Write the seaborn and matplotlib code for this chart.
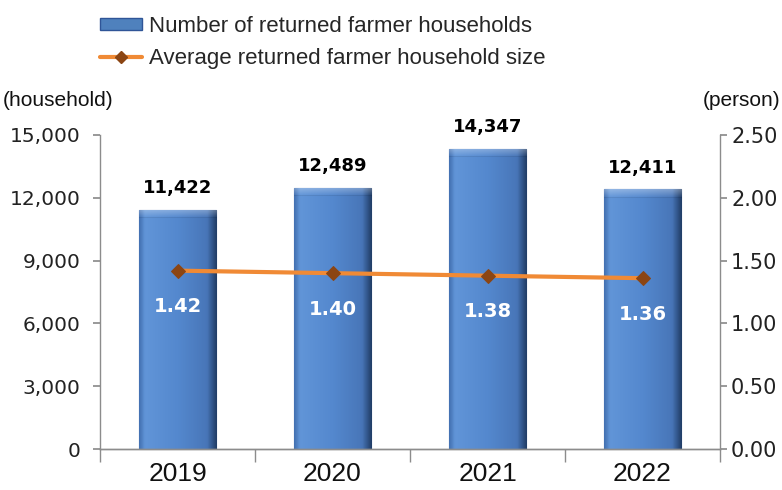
import numpy as np
import pandas as pd
import matplotlib
matplotlib.use("Agg")
import matplotlib.pyplot as plt
import matplotlib.colors as mcolors
from matplotlib.patches import Patch
from matplotlib.lines import Line2D
from matplotlib.ticker import FuncFormatter, FixedLocator
import seaborn as sns

# Data
years = ["2019", "2020", "2021", "2022"]
households = [11422, 12489, 14347, 12411]
avg_size = [1.42, 1.40, 1.38, 1.36]

bar_label = "Number of returned farmer households"
line_label = "Average returned farmer household size"

# Settings
sns.set_theme(style="white")
plt.rcParams["font.family"] = ["Liberation Sans", "DejaVu Sans"]

df = pd.DataFrame({"year": years, "households": households, "size": avg_size})

fig = plt.figure(figsize=(7.82, 4.9), dpi=100)
ax = fig.add_axes([100 / 782, 41 / 490, 620 / 782, 314 / 490])
ax2 = ax.twinx()

sns.barplot(data=df, x="year", y="households", ax=ax, color="#4F81BD",
            width=0.5, edgecolor="#2F5597", linewidth=0.8, zorder=2)
ax.set_ylim(0, 15000)
ax.set_xlim(-0.5, len(years) - 0.5)

# Gradient fill clipped to each bar
stops = [(0.0, "#4472B3"), (0.07, "#6195D8"), (0.5, "#5488CE"),
         (0.88, "#4876B8"), (1.0, "#223F69")]
cmap = mcolors.LinearSegmentedColormap.from_list("bar", stops)
cols = cmap(np.linspace(0, 1, 60))[:, :3]
for p in ax.patches:
    x0, y0 = p.get_x(), p.get_y()
    w, h = p.get_width(), p.get_height()
    npx = max(int(h / 15000 * 314), 20)
    img = np.tile(cols[None, :, :], (npx, 1, 1))
    bevel = 8
    for r in range(bevel):
        f = 0.3 * (1 - r / bevel)
        img[r] = img[r] + (1 - img[r]) * f
    img[bevel] = img[bevel] * 0.92
    im = ax.imshow(img, extent=[x0, x0 + w, y0, y0 + h], aspect="auto",
                   origin="upper", zorder=2.5, interpolation="bilinear")
    im.set_clip_path(p)
ax.set_ylim(0, 15000)
ax.set_xlim(-0.5, len(years) - 0.5)

for i, v in enumerate(households):
    ax.annotate(f"{v:,}", (i, v), xytext=(0, 9), textcoords="offset points",
                ha="center", va="bottom", fontsize=13, fontweight="bold",
                family="DejaVu Sans", color="black", zorder=5)

# Line on secondary axis
sns.lineplot(x=np.arange(len(years)), y=avg_size, ax=ax2, color="#F08A35",
             linewidth=3, marker="D", markersize=7, markerfacecolor="#8B4513",
             markeredgecolor="#8B4513", zorder=4)
ax2.set_ylim(0, 2.5)
ax2.set_xlim(-0.5, len(years) - 0.5)
for i, v in enumerate(avg_size):
    ax2.annotate(f"{v:.2f}", (i, v), xytext=(0, -26), textcoords="offset points",
                 ha="center", va="center", fontsize=14, fontweight="bold",
                 family="DejaVu Sans", color="white", zorder=6)

# Axes styling
spine_c = "#8C8C8C"
for a in (ax, ax2):
    for s in a.spines.values():
        s.set_color(spine_c)
        s.set_linewidth(1)
    a.spines["top"].set_visible(False)
    a.grid(False)
    a.set_xlabel("")
    a.set_ylabel("")

ax.spines["right"].set_visible(False)
ax2.spines["left"].set_visible(False)

ax.set_yticks(np.arange(0, 15001, 3000))
ax.yaxis.set_major_formatter(FuncFormatter(lambda v, _: f"{int(v):,}"))
ax.tick_params(axis="y", direction="out", length=5, color=spine_c,
               labelsize=14.5, labelcolor="#222222", pad=9, left=True)
for t in ax.get_yticklabels():
    t.set_family("DejaVu Sans")

ax2.set_yticks(np.arange(0, 2.51, 0.5))
ax2.yaxis.set_major_formatter(FuncFormatter(lambda v, _: f"{v:.2f}"))
ax2.tick_params(axis="y", direction="out", length=5, color=spine_c,
                labelsize=15, labelcolor="#222222", pad=3, right=True)
for t in ax2.get_yticklabels():
    t.set_family("DejaVu Sans")

ax.set_xticks(range(len(years)))
ax.set_xticklabels(years)
ax.xaxis.set_minor_locator(FixedLocator(np.arange(-0.5, len(years), 1)))
ax.tick_params(axis="x", which="major", length=0, labelsize=19, pad=9,
               labelcolor="#111111")
ax.tick_params(axis="x", which="minor", direction="out", length=9,
               color=spine_c, bottom=True, width=1)

# Unit labels
fig.text(3 / 782, 1 - 100 / 490, "(household)", fontsize=15, va="center",
         ha="left", color="#111111")
fig.text(780 / 782, 1 - 100 / 490, "(person)", fontsize=15, va="center",
         ha="right", color="#111111")

# Legend
handles = [
    Patch(facecolor="#4F81BD", edgecolor="#2F5597", linewidth=1),
    Line2D([0], [0], color="#F08A35", linewidth=3, marker="D", markersize=6,
           markerfacecolor="#8B4513", markeredgecolor="#8B4513"),
]
fig.legend(handles, [bar_label, line_label], loc="upper left",
           bbox_to_anchor=(80 / 782, 1 + 4 / 490), frameon=False,
           handlelength=1.9, handleheight=0.5, handletextpad=0.3,
           labelspacing=0.5, prop={"family": "Liberation Sans", "size": 16})

fig.savefig("out.png", dpi=100)
